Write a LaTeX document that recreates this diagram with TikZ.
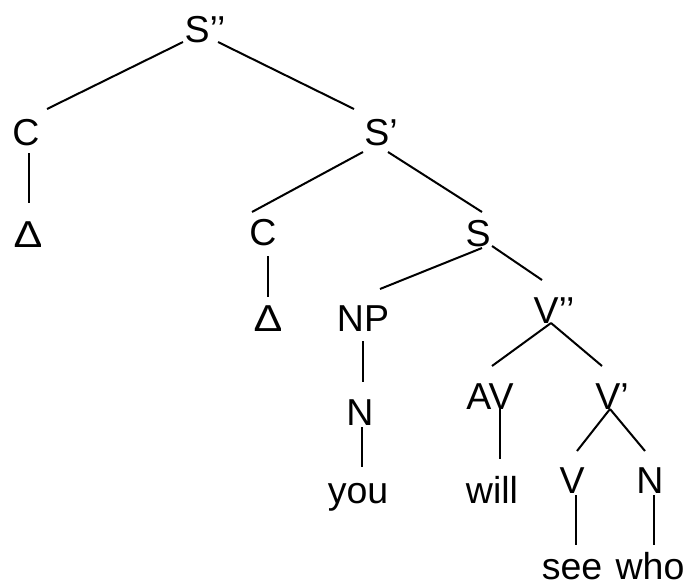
\documentclass[tikz,border=0pt]{standalone}
\usepackage{fontspec}
\setmainfont{Liberation Sans}
\usetikzlibrary{calc}
\begin{document}
\begin{tikzpicture}[x=1pt,y=-1pt,
  lbl/.style={anchor=base,inner sep=0pt,font=\fontsize{37.5}{45}\selectfont},
  branch/.style={line width=2pt}]
\useasboundingbox (0,0) rectangle (690,584);
% category and word labels
\node[lbl] (sdd)  at (205,42)  {S’’};
\node[lbl] (c1)   at (26,145)  {C};
\node[lbl] (sd)   at (381,145) {S’};
\node[lbl] (d1)   at (28,247)  {\scalebox{1.15}[1]{Δ}};
\node[lbl] (c2)   at (263,245) {C};
\node[lbl] (s)    at (478,246) {S};
\node[lbl] (d2)   at (268,331) {\scalebox{1.15}[1]{Δ}};
\node[lbl] (np)   at (363,331) {NP};
\node[lbl] (vdd)  at (554,323) {V’’};
\node[lbl] (n1)   at (360,425) {N};
\node[lbl] (av)   at (490,409) {AV};
\node[lbl] (vd)   at (612,409) {V’};
\node[lbl] (you)  at (358,503) {you};
\node[lbl] (will) at (492,503) {will};
\node[lbl] (v)    at (572,493) {V};
\node[lbl] (n2)   at (650,493) {N};
\node[lbl] (see)  at (572,579) {see};
\node[lbl] (who)  at (650,579) {who};
% branches
\draw[branch] ($(sdd.base)+(-22,0)$) -- ($(c1.base)+(21,-36)$);
\draw[branch] ($(sdd.base)+(13,0)$)  -- ($(sd.base)+(-27,-36)$);
\draw[branch] ($(c1.base)+(3,8)$)    -- ($(d1.base)+(1,-44)$);
\draw[branch] ($(sd.base)+(-18,7)$)  -- ($(c2.base)+(-11,-33)$);
\draw[branch] ($(sd.base)+(7,7)$)    -- ($(s.base)+(4,-34)$);
\draw[branch] ($(c2.base)+(5,11)$)   -- ($(d2.base)+(0,-34)$);
\draw[branch] ($(s.base)+(4,2)$)     -- ($(np.base)+(17,-42)$);
\draw[branch] ($(s.base)+(14,0)$)    -- ($(vdd.base)+(-12,-43)$);
\draw[branch] ($(np.base)+(0,10)$)   -- ($(n1.base)+(3,-43)$);
\draw[branch] ($(vdd.base)+(-3,0)$)  -- ($(av.base)+(2,-43)$);
\draw[branch] ($(vdd.base)+(-3,0)$)  -- ($(vd.base)+(-10,-43)$);
\draw[branch] ($(n1.base)+(2,2)$)    -- ($(you.base)+(4,-36)$);
\draw[branch] ($(av.base)+(10,0)$)   -- ($(will.base)+(8,-44)$);
\draw[branch] ($(vd.base)+(-2,0)$)   -- ($(v.base)+(5,-42)$);
\draw[branch] ($(vd.base)+(-2,0)$)   -- ($(n2.base)+(-5,-42)$);
\draw[branch] ($(v.base)+(4,2)$)     -- ($(see.base)+(4,-34)$);
\draw[branch] ($(n2.base)+(4,2)$)    -- ($(who.base)+(4,-34)$);
\end{tikzpicture}
\end{document}
